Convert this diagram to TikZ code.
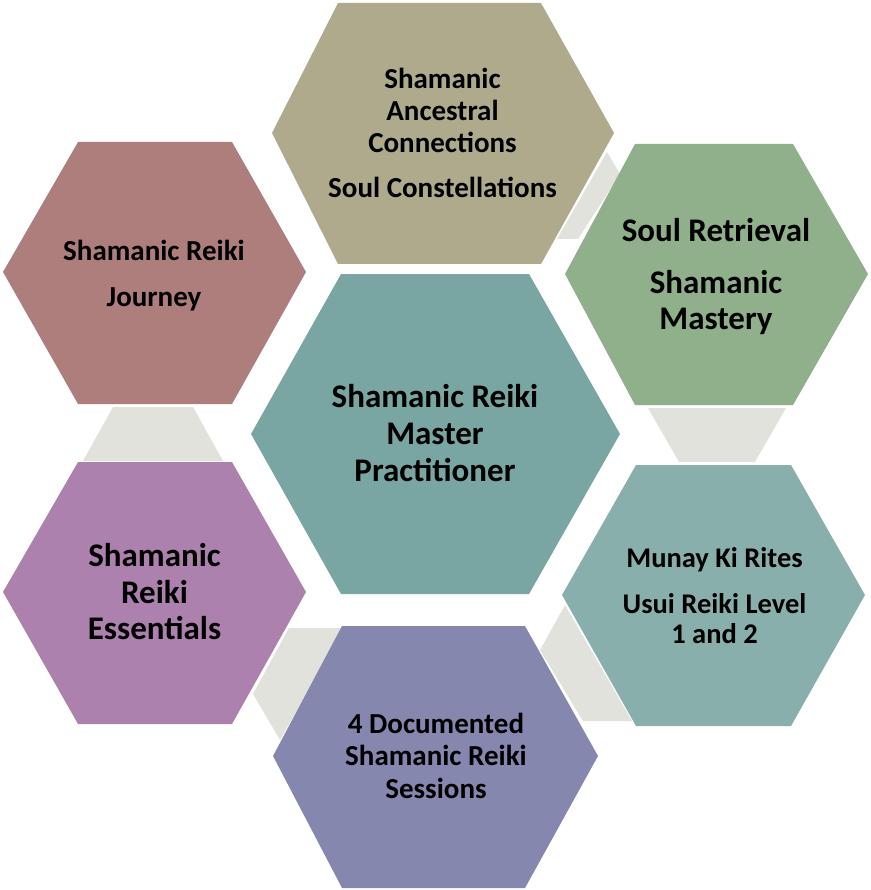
\documentclass[tikz,border=0pt]{standalone}
\usepackage{fontspec}
\setmainfont{Carlito}
\definecolor{cTop}{HTML}{AFAA8C}
\definecolor{cTL}{HTML}{AD7E7C}
\definecolor{cTR}{HTML}{8FB08A}
\definecolor{cMid}{HTML}{79A6A3}
\definecolor{cBR}{HTML}{89AFAD}
\definecolor{cBot}{HTML}{8587AF}
\definecolor{cBL}{HTML}{AD81AE}
\definecolor{cLink}{HTML}{E2E2DC}
\tikzset{
  hexfill/.style={fill=#1, draw=none},
  linkfill/.style={fill=cLink, draw=none},
  lbl/.style={align=center, inner sep=0pt, text=black},
  bigf/.style={lbl, font=\fontsize{33}{#1}\selectfont\bfseries},
  smallf/.style={lbl, font=\fontsize{29}{#1}\selectfont\bfseries},
}
\begin{document}
\begin{tikzpicture}[x=1pt,y=-1pt]
\fill[white] (0,0) rectangle (870,890);
\useasboundingbox (0,0) rectangle (870,890);

% connector shapes
\path[linkfill] (607,152) -- (620,174) -- (578,239) -- (557,239) -- cycle;
\path[linkfill] (648,408) -- (786,408) -- (755,462) -- (679,462) -- cycle;
\path[linkfill] (565,605) -- (632,721) -- (583,721) -- (540,650) -- cycle;
\path[linkfill] (289,628) -- (344,628) -- (280,740) -- (253,694) -- cycle;
\path[linkfill] (113,407) -- (193,407) -- (223,461) -- (83,461) -- cycle;

% hexagons
\path[hexfill=cTop] (338,3) -- (541,3) -- (614,133) -- (541,264) -- (338,264) -- (272,133) -- cycle;
\path[hexfill=cTL] (78,142) -- (232,142) -- (306,272) -- (232,404) -- (78,404) -- (3,272) -- cycle;
\path[hexfill=cTR] (635,144) -- (793,144) -- (868,274) -- (793,405) -- (635,405) -- (565,274) -- cycle;
\path[hexfill=cMid] (341,274) -- (529,274) -- (620,434) -- (529,594) -- (341,594) -- (251,434) -- cycle;
\path[hexfill=cBR] (636,465) -- (791,465) -- (865,595) -- (791,726) -- (636,726) -- (562,595) -- cycle;
\path[hexfill=cBot] (342,626) -- (525,626) -- (598,756) -- (525,888) -- (342,888) -- (273,756) -- cycle;
\path[hexfill=cBL] (78,462) -- (232,462) -- (306,592) -- (232,724) -- (78,724) -- (3,592) -- cycle;

% labels
\node[smallf=32] (ntop) at (442.5,137) {\strut Shamanic\\\strut Ancestral\\\strut Connections\\[13pt]\strut Soul Constellations};
\node[smallf=32] (ntl) at (154,277) {\strut Shamanic Reiki\\[14pt]\strut Journey};
\node[bigf=36] (ntr) at (716,278) {\strut Soul Retrieval\\[16pt]\strut Shamanic\\\strut Mastery};
\node[lbl, font=\fontsize{28.5}{30}\selectfont\bfseries] (nbr) at (714.5,599) {\strut Munay Ki Rites\\[16pt]\strut Usui Reiki Level\\\strut 1 and 2};
\node[smallf=32.5] (nbot) at (436,759) {\strut 4 Documented\\\strut Shamanic Reiki\\\strut Sessions};
\node[bigf=36.5] (nbl) at (154.5,596) {\strut Shamanic\\\strut Reiki\\\strut Essentials};
\node[bigf=37] (nmid) at (435,437) {\strut Shamanic Reiki\\\strut Master\\\strut Practitioner};
\end{tikzpicture}
\end{document}
